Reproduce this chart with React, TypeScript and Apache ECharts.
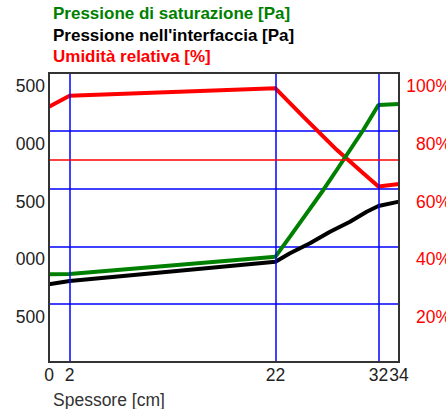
import React, { useEffect, useRef } from "react";
import * as echarts from "echarts";

// Positions along the wall thickness (cm)
const xTicks = [0, 2, 22, 32, 34];
const layerBounds = [2, 22, 32];

// Saturation pressure [Pa]
const satX = [0, 2, 22, 23.41, 25.03, 26.65, 27.95, 29.24, 30.53, 32, 34];
const satP = [759, 762, 911, 1084, 1286, 1488, 1661, 1834, 2007, 2223, 2232];

// Vapour pressure at the interfaces [Pa]
const vapX = [0, 2, 22, 23.41, 25.35, 27.3, 29.24, 30.86, 32, 34];
const vapP = [672, 701, 868, 940, 1027, 1127, 1214, 1300, 1349, 1387];

// Relative humidity [%]
const rhX = [0, 2, 22, 24.7, 27.95, 30.53, 32, 34];
const rhV = [88.3, 92.1, 94.7, 84.9, 73.4, 65.3, 60.7, 61.6];

const rhThreshold = 70;

const legendLines = [
  { text: "Pressione di saturazione [Pa]", color: "#008000" },
  { text: "Pressione nell'interfaccia [Pa]", color: "#000000" },
  { text: "Umidità relativa [%]", color: "#ff0000" },
];

const FONT = "Liberation Sans";

const zip = (xs: number[], ys: number[]) => xs.map((x, i) => [x, ys[i]]);

export default function App() {
  const ref = useRef<HTMLDivElement>(null);

  useEffect(() => {
    const chart = echarts.init(ref.current!, null, { renderer: "svg" });
    chart.setOption({
      animation: false,
      backgroundColor: "#ffffff",
      textStyle: { fontFamily: FONT },
      grid: {
        left: 49,
        top: 73,
        width: 350,
        height: 289,
        show: true,
        borderColor: "#333333",
        borderWidth: 2,
        backgroundColor: "transparent",
        z: 10,
      },
      graphic: [
        ...legendLines.map((l, i) => ({
          type: "text",
          left: 53,
          top: 5 + i * 21.5,
          style: {
            text: l.text,
            fill: l.color,
            font: `bold 17px "${FONT}"`,
          },
        })),
        {
          type: "text",
          left: 53,
          top: 391,
          style: { text: "Spessore [cm]", fill: "#333333", font: `17.5px "${FONT}"` },
        },
      ],
      xAxis: {
        type: "value",
        min: 0,
        max: 34,
        axisLine: { show: false },
        axisTick: { show: false },
        splitLine: { show: false },
        axisLabel: {
          customValues: xTicks,
          color: "#222222",
          fontSize: 17.5,
          margin: 4,
          fontFamily: FONT,
        },
      },
      yAxis: [
        {
          type: "value",
          min: 0,
          max: 2500,
          interval: 500,
          axisLine: { show: false },
          axisTick: { show: false },
          splitLine: { show: true, lineStyle: { color: "#0000ff", width: 1.5 } },
          axisLabel: {
            formatter: (v: number) => String(v),
            color: "#222222",
            fontSize: 17.5,
            margin: 4,
            showMinLabel: false,
            verticalAlign: "top",
            padding: [4, 0, 0, 0],
            fontFamily: FONT,
          },
        },
        {
          type: "value",
          min: 0,
          max: 100,
          interval: 20,
          position: "right",
          axisLine: { show: false },
          axisTick: { show: false },
          splitLine: { show: false },
          axisLabel: {
            formatter: "{value}%",
            color: "#ff0000",
            fontSize: 17.5,
            margin: 52,
            align: "right",
            showMinLabel: false,
            verticalAlign: "top",
            padding: [4, 0, 0, 0],
            fontFamily: FONT,
          },
        },
      ],
      series: [
        {
          type: "line",
          data: [],
          markLine: {
            silent: true,
            symbol: "none",
            label: { show: false },
            lineStyle: { color: "#0000ff", width: 1.5, type: "solid" },
            data: layerBounds.map((x) => ({ xAxis: x })),
          },
        },
        {
          type: "line",
          yAxisIndex: 1,
          data: [],
          markLine: {
            silent: true,
            symbol: "none",
            label: { show: false },
            lineStyle: { color: "#ff0000", width: 1.5, type: "solid" },
            data: [{ yAxis: rhThreshold }],
          },
        },
        {
          name: "Umidità relativa [%]",
          type: "line",
          yAxisIndex: 1,
          data: zip(rhX, rhV),
          showSymbol: false,
          lineStyle: { color: "#ff0000", width: 4 },
        },
        {
          name: "Pressione di saturazione [Pa]",
          type: "line",
          data: zip(satX, satP),
          showSymbol: false,
          lineStyle: { color: "#008000", width: 4 },
        },
        {
          name: "Pressione nell'interfaccia [Pa]",
          type: "line",
          data: zip(vapX, vapP),
          showSymbol: false,
          lineStyle: { color: "#000000", width: 4 },
        },
      ],
    });
    return () => chart.dispose();
  }, []);

  return (
    <div
      style={{
        position: "fixed",
        left: 15,
        top: 0,
        width: 431,
        height: 409,
        overflow: "hidden",
        background: "#ffffff",
      }}
    >
      <div ref={ref} style={{ position: "absolute", left: -15, top: 0, width: 470, height: 409 }} />
    </div>
  );
}
